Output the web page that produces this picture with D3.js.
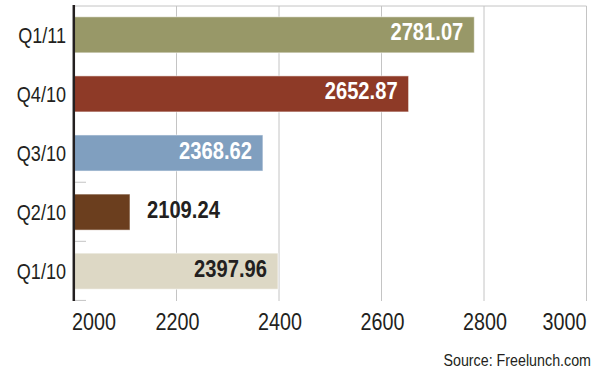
<!DOCTYPE html>
<html>
<head>
<meta charset="utf-8">
<script src="https://cdn.jsdelivr.net/npm/d3@7"></script>
<style>
  html, body { margin: 0; padding: 0; background: #fff; }
  svg { display: block; }
  text { font-family: "Liberation Sans", Arial, sans-serif; }
</style>
</head>
<body>
<script>
// Quarterly values, top to bottom
const quarters = ["Q1/11", "Q4/10", "Q3/10", "Q2/10", "Q1/10"];
const values = [2781.07, 2652.87, 2368.62, 2109.24, 2397.96];
const barColors = ["#989868", "#8e3a27", "#809fbf", "#6b3e1e", "#ddd8c5"];
const labelInside = [true, true, true, false, true];
const labelColors = ["#ffffff", "#ffffff", "#ffffff", "#231f20", "#231f20"];
const xTicks = [2000, 2200, 2400, 2600, 2800, 3000];
const sourceText = "Source: Freelunch.com";

const W = 613, H = 373;
const NARROW = 0.84; // horizontal squeeze for a condensed look
const svg = d3.select("body").append("svg").attr("width", W).attr("height", H);

const x = d3.scaleLinear().domain([2000, 3000]).range([74, 586.5]);
const y = d3.scaleBand().domain(quarters).range([5, 301]).paddingInner(0.39).paddingOuter(0.2);

// place text at (px, py), squeezed horizontally
const at = (px, py) => `translate(${px},${py}) scale(${NARROW},1)`;

// vertical grid lines and top frame
svg.append("g").selectAll("line").data(xTicks.slice(1)).join("line")
  .attr("x1", d => x(d)).attr("x2", d => x(d))
  .attr("y1", 6).attr("y2", 301)
  .attr("stroke", "#c4c4c4").attr("stroke-width", 1);
svg.append("line")
  .attr("x1", x(2000)).attr("x2", x(3000))
  .attr("y1", 6).attr("y2", 6)
  .attr("stroke", "#c4c4c4").attr("stroke-width", 1);

// short separators on the left between lower bands
const step = y.step();
const sepY = [3, 4, 5].map(i => y.range()[0] + i * step);
svg.append("g").selectAll("line").data(sepY).join("line")
  .attr("x1", 74).attr("x2", 86)
  .attr("y1", d => d).attr("y2", d => d)
  .attr("stroke", "#c4c4c4").attr("stroke-width", 1);

// bars
const rows = quarters.map((q, i) => ({ q, v: values[i], c: barColors[i], inside: labelInside[i], lc: labelColors[i] }));
svg.append("g").selectAll("rect").data(rows).join("rect")
  .attr("x", x(2000))
  .attr("y", d => y(d.q))
  .attr("width", d => x(d.v) - x(2000))
  .attr("height", y.bandwidth())
  .attr("fill", d => d.c)
  .attr("stroke", "rgba(255,255,255,0.55)")
  .attr("stroke-width", 1);

// value labels
svg.append("g").selectAll("text").data(rows).join("text")
  .attr("transform", d => at(d.inside ? x(d.v) - 11 : x(d.v) + 17, y(d.q) + y.bandwidth() / 2 + 5.5))
  .attr("text-anchor", d => d.inside ? "end" : "start")
  .attr("fill", d => d.lc)
  .attr("font-weight", "bold")
  .attr("font-size", "24px")
  .text(d => d.v.toFixed(2));

// category axis
svg.append("g").selectAll("text").data(quarters).join("text")
  .attr("transform", d => at(66, y(d) + y.bandwidth() / 2 + 8))
  .attr("text-anchor", "end")
  .attr("fill", "#231f20")
  .attr("font-size", "21.5px")
  .text(d => d);

svg.append("line")
  .attr("x1", 73.8).attr("x2", 73.8)
  .attr("y1", 5).attr("y2", 301)
  .attr("stroke", "#231f20").attr("stroke-width", 2.5);

// value axis labels
svg.append("g").selectAll("text").data(xTicks).join("text")
  .attr("transform", (d, i) => at(i === 0 ? x(d) - 2 : i === xTicks.length - 1 ? x(d) : x(d) + 1, 330))
  .attr("text-anchor", (d, i) => i === 0 ? "start" : i === xTicks.length - 1 ? "end" : "middle")
  .attr("fill", "#231f20")
  .attr("font-size", "23.5px")
  .text(d => d);

svg.append("text")
  .attr("transform", at(591, 366))
  .attr("text-anchor", "end")
  .attr("fill", "#231f20")
  .attr("font-size", "17px")
  .text(sourceText);
</script>
</body>
</html>
